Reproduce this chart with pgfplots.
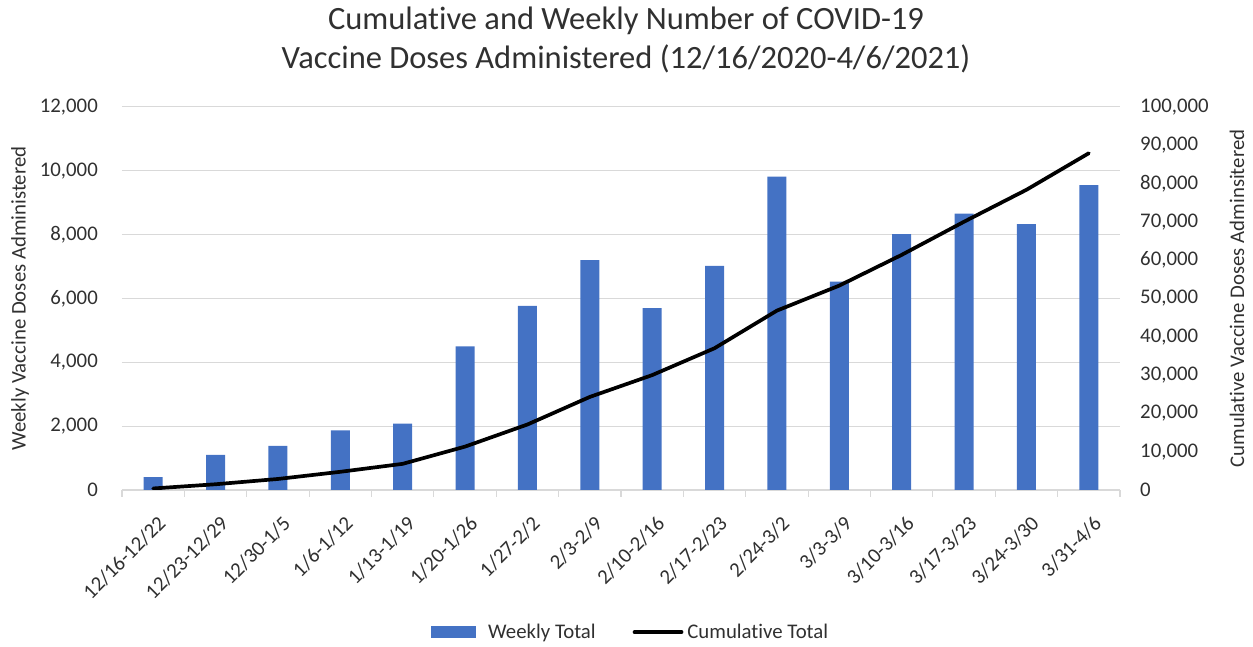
\documentclass[border=0pt]{standalone}
\usepackage{fontspec}
\setmainfont{Carlito}[Ligatures=NoCommon]
\usepackage{pgfplots}
\pgfplotsset{compat=1.18}
\definecolor{barblue}{HTML}{4472C4}
\definecolor{gridgray}{HTML}{D9D9D9}
\definecolor{txt}{HTML}{303030}
\begin{document}
\begin{tikzpicture}
\useasboundingbox (0pt,0pt) rectangle (1253pt,647pt);
\node[anchor=base, font=\fontsize{32.5}{39}\selectfont, text=txt, inner sep=0pt] at (626pt,617pt) {Cumulative and Weekly Number of COVID-19};
\node[anchor=base, font=\fontsize{32.5}{39}\selectfont, text=txt, inner sep=0pt] at (626pt,578pt) {Vaccine Doses Administered (12/16/2020-4/6/2021)};
\begin{axis}[
  at={(122pt,157pt)}, anchor=south west, scale only axis,
  width=998pt, height=383pt,
  xmin=-0.5, xmax=15.5, ymin=0, ymax=12000,
  ytick={0,2000,...,12000},
  xtick={0,...,15},
  xticklabels={12/16-12/22,12/23-12/29,12/30-1/5,1/6-1/12,1/13-1/19,1/20-1/26,1/27-2/2,2/3-2/9,2/10-2/16,2/17-2/23,2/24-3/2,3/3-3/9,3/10-3/16,3/17-3/23,3/24-3/30,3/31-4/6},
  axis x line*=bottom, axis y line*=left,
  x axis line style={draw=gridgray, line width=1.2pt},
  y axis line style={draw=none},
  ymajorgrids, grid style={draw=gridgray, line width=1pt},
  major tick length=0pt,
  minor xtick={-0.5,0.5,...,15.5}, minor tick length=7pt, tick align=outside,
  minor tick style={draw=gridgray, line width=1.2pt},
  tick label style={font=\fontsize{20.8}{25}\selectfont, text=txt},
  scaled y ticks=false,
  yticklabel style={inner sep=0pt, xshift=-24pt, /pgf/number format/fixed, /pgf/number format/1000 sep={,}, /pgf/number format/assume math mode=true},
  xticklabel style={xshift=9pt, yshift=-30pt, rotate=45, anchor=east, inner sep=0pt},
  ylabel={Weekly Vaccine Doses Administered},
  ylabel style={at={(rel axis cs:-0.1022,0.5)}, anchor=center, font=\fontsize{20.8}{25}\selectfont, text=txt},
]
\addplot[ybar, bar width=19pt, fill=barblue, draw=none] coordinates {
(0,400) (1,1100) (2,1380) (3,1870) (4,2080) (5,4500) (6,5770) (7,7200)
(8,5700) (9,7020) (10,9820) (11,6530) (12,8020) (13,8660) (14,8330) (15,9550)
};
\end{axis}
\begin{axis}[
  at={(122pt,157pt)}, anchor=south west, scale only axis,
  width=998pt, height=383pt,
  xmin=-0.5, xmax=15.5, ymin=0, ymax=100000,
  ytick={0,10000,...,100000},
  axis y line*=right, axis x line=none,
  y axis line style={draw=none},
  major tick length=0pt,
  tick label style={font=\fontsize{20.8}{25}\selectfont, text=txt},
  scaled y ticks=false,
  yticklabel style={anchor=west, inner sep=0pt, xshift=20pt, /pgf/number format/fixed, /pgf/number format/1000 sep={,}, /pgf/number format/assume math mode=true},
  ylabel={Cumulative Vaccine Doses Adminsitered},
  ylabel style={at={(rel axis cs:1.1172,0.5)}, anchor=center, font=\fontsize{20.8}{25}\selectfont, text=txt},
  legend style={at={(0.5095,-0.371)}, anchor=center, draw=none, fill=none,
    font=\fontsize{20.8}{25}\selectfont, text=txt,
    /tikz/every odd column/.append style={column sep=2pt},
    /tikz/every even column/.append style={column sep=35pt}},
  legend columns=2,
]
\addlegendimage{legend image code/.code={\fill[barblue] (0pt,-5.5pt) rectangle (44pt,5.5pt); \path (53pt,0pt);}}
\addlegendentry{Weekly Total}
\addplot[black, line width=3.7pt, line join=round, line cap=round,
  legend image code/.code={\draw[black, line width=3.7pt] (0pt,0pt) -- (47pt,0pt);}] coordinates {
(0,400) (1,1500) (2,2880) (3,4750) (4,6830) (5,11330) (6,17100) (7,24300)
(8,30000) (9,37020) (10,46840) (11,53370) (12,61390) (13,70050) (14,78380) (15,87930)
};
\addlegendentry{Cumulative Total}
\end{axis}
\end{tikzpicture}
\end{document}
